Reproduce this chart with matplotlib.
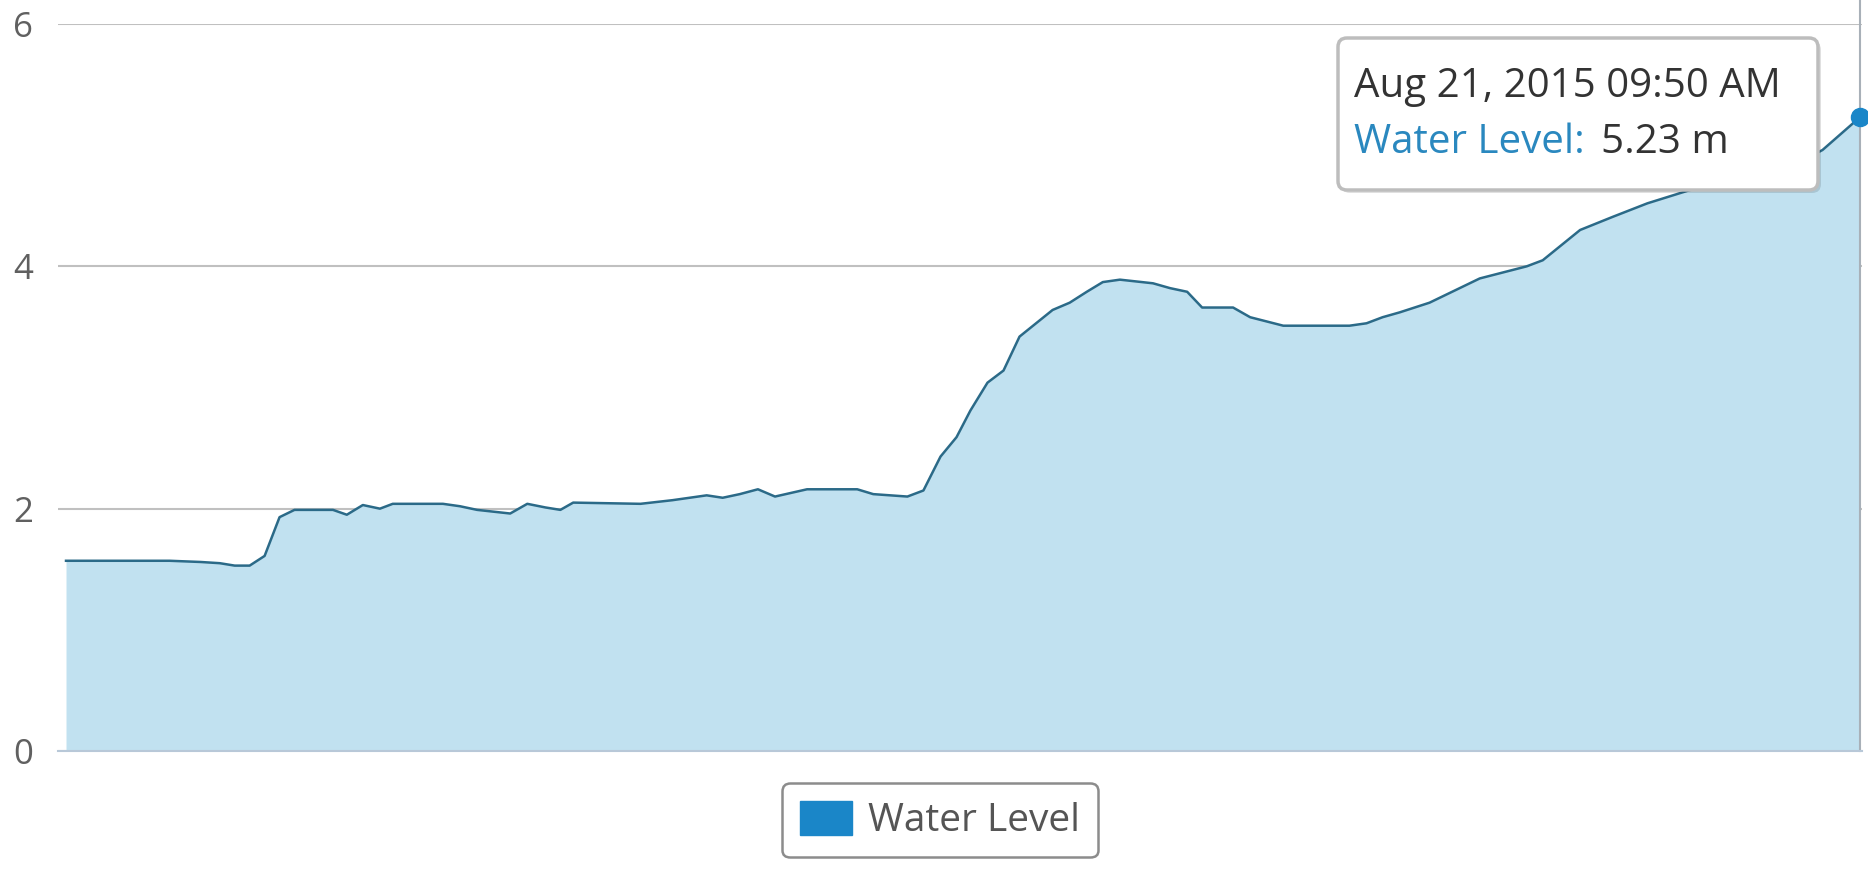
import matplotlib
matplotlib.use("Agg")
import matplotlib.pyplot as plt
from matplotlib.patches import FancyBboxPatch, Patch

# hours since first reading, water level in metres
hours = [0.0, 3.2, 6.9, 9.7, 12.6, 14.4, 15.8, 17.2, 18.6, 20.0,
         21.4, 25.0, 26.3, 27.8, 29.4, 30.6, 35.3, 36.9, 38.5, 41.6,
         43.2, 44.9, 46.3, 47.5, 53.8, 56.8, 60.0, 61.5, 63.1, 64.8,
         66.4, 69.4, 74.1, 75.6, 78.8, 80.3, 81.9, 83.4, 84.7, 86.3,
         87.8, 89.3, 92.4, 94.0, 95.6, 97.1, 98.7, 101.8, 103.4, 105.0,
         106.4, 109.3, 110.9, 114.0, 120.2, 121.8, 123.3, 124.9, 127.7, 132.4,
         136.8, 138.3, 141.8, 144.9, 148.1, 152.1, 156.8, 161.5, 164.5, 168.0]
level = [1.57, 1.57, 1.57, 1.57, 1.56, 1.55, 1.53, 1.53, 1.61, 1.93,
         1.99, 1.99, 1.95, 2.03, 2.00, 2.04, 2.04, 2.02, 1.99, 1.96,
         2.04, 2.01, 1.99, 2.05, 2.04, 2.07, 2.11, 2.09, 2.12, 2.16,
         2.10, 2.16, 2.16, 2.12, 2.10, 2.15, 2.43, 2.59, 2.81, 3.04,
         3.14, 3.42, 3.64, 3.70, 3.79, 3.87, 3.89, 3.86, 3.82, 3.79,
         3.66, 3.66, 3.58, 3.51, 3.51, 3.53, 3.58, 3.62, 3.70, 3.90,
         4.00, 4.05, 4.30, 4.41, 4.52, 4.63, 4.72, 4.82, 4.96, 5.23]
y_ticks = [0, 2, 4, 6]
tip_date = "Aug 21, 2015 09:50 AM"
series_name = "Water Level"
tip_value = "5.23 m"

W, H = 1868, 869
FONT = "Open Sans"
LINE = "#2b6a88"
FILL = "#c1e1f0"
BLUE = "#1a86c8"

fig = plt.figure(figsize=(W / 100, H / 100), dpi=100)
ax = fig.add_axes([58 / W, 1 - 751 / H, (1862 - 58) / W, (751 - 24) / H])

ax.fill_between(hours, level, 0, color=FILL, lw=0, zorder=1)
ax.plot(hours, level, color=LINE, lw=1.8, zorder=3)
ax.plot(hours[-1], level[-1], "o", ms=13, color=BLUE, mec=BLUE,
        clip_on=False, zorder=5)
ax.axvline(hours[-1], ymin=0, ymax=1.033, color="#a8b0b8", lw=1.5,
           clip_on=False, zorder=2)

ax.set_xlim(-0.75, 168.2)
ax.set_ylim(0, 6)
ax.set_yticks(y_ticks)
ax.set_xticks([])
ax.yaxis.grid(True, color="#c0c0c0", lw=1.5)
ax.set_axisbelow(True)
for s in ["top", "right", "left"]:
    ax.spines[s].set_visible(False)
ax.spines["bottom"].set_color("#b8c8d8")
ax.spines["bottom"].set_linewidth(1.5)
ax.tick_params(axis="y", length=0, pad=18, labelsize=25, labelcolor="#606060")
for lab in ax.get_yticklabels():
    lab.set_fontfamily(FONT)

# tooltip (coordinates in inches of the figure)
tr = fig.dpi_scale_trans
shadow = FancyBboxPatch((13.41, 6.76), 4.80, 1.52,
                        boxstyle="round,pad=0,rounding_size=0.09",
                        transform=tr, fc="#000000", ec="none", alpha=0.12,
                        zorder=10)
box = FancyBboxPatch((13.38, 6.79), 4.80, 1.52,
                     boxstyle="round,pad=0,rounding_size=0.09",
                     transform=tr, fc="white", ec="#bdbdbd", lw=2.5,
                     zorder=11)
fig.patches.extend([shadow, box])
fig.text(13.54, 7.72, tip_date, transform=tr, fontsize=29, family=FONT,
         color="#333333", va="baseline", zorder=12)
fig.text(13.54, 7.16, series_name + ":", transform=tr, fontsize=29,
         family=FONT, color="#2a88bf", va="baseline", zorder=12)
fig.text(16.01, 7.16, tip_value, transform=tr, fontsize=29, family=FONT,
         color="#333333", va="baseline", zorder=12)

handle = Patch(facecolor=BLUE, edgecolor=BLUE, label=series_name)
leg = fig.legend(handles=[handle], loc="upper center",
                 bbox_to_anchor=(940 / W, 1 - 783 / H),
                 prop={"family": FONT, "size": 28},
                 handlelength=1.34, handleheight=0.98, handletextpad=0.42,
                 borderpad=0.45, borderaxespad=0, fancybox=True,
                 framealpha=1, edgecolor="#8c8c8c")
leg.get_frame().set_linewidth(1.8)
for t in leg.get_texts():
    t.set_color("#555555")

fig.savefig("out.png", dpi=100)
